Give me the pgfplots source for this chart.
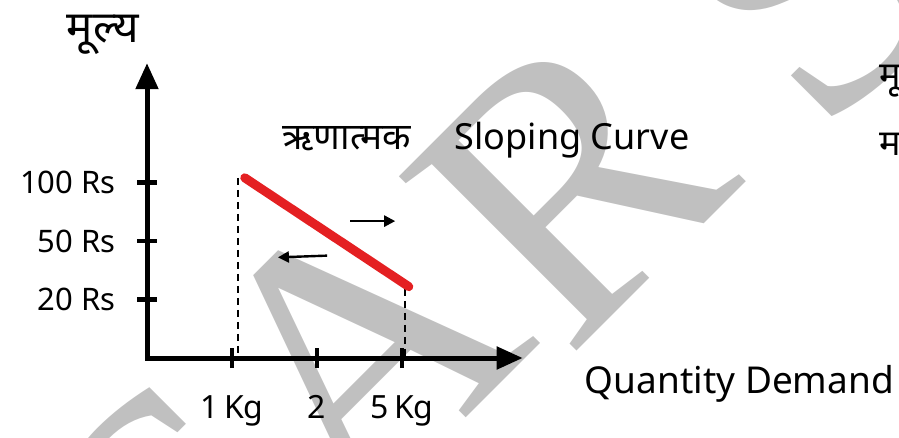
\documentclass[border=0pt]{standalone}
\usepackage{fontspec}
\setmainfont{Noto Sans}
\newfontfamily\hindi[Script=Devanagari]{Noto Sans}
\newfontfamily\wmfont{Liberation Serif}
\usepackage{pgfplots}
\pgfplotsset{compat=1.18}
\usetikzlibrary{arrows.meta}
\definecolor{curvered}{RGB}{228,32,34}
\definecolor{wmgray}{RGB}{192,192,192}

\begin{document}
\begin{tikzpicture}
\useasboundingbox (0,0) rectangle (899pt,437pt);
% watermark letters behind the chart
\tikzset{wm/.style={wmgray, rotate=45, inner sep=0, font=\wmfont\fontsize{380}{380}\selectfont}}
\node[wm] at (186pt,-84pt) {S};
\node[wm] at (357pt,87pt) {A};
\node[wm] at (569pt,254pt) {R};
\node[wm] at (808pt,458pt) {S};

\begin{axis}[
    at={(147pt,79pt)}, anchor=south west,
    x=85pt, y=58.5pt,
    xmin=0, xmax=4.42, ymin=0, ymax=5.04,
    axis lines=left,
    axis line style={line width=5pt, line cap=rect, -{Triangle[length=26pt,width=22pt]}},
    xtick={1,2,3}, xticklabels={1\,Kg, 2, 5\,Kg},
    ytick={1,2,3}, yticklabels={20 Rs, 50 Rs, 100 Rs},
    tick align=center, major tick length=20pt,
    tick style={line width=4.5pt, black},
    xticklabel style={font=\fontsize{32}{34}\selectfont, anchor=north, yshift=-24pt},
    yticklabel style={font=\fontsize{31}{34}\selectfont, anchor=east, xshift=-18pt},
    clip=false,
]
% dashed guides from the curve ends
\addplot[black, line width=2pt, dash pattern=on 7pt off 5pt] coordinates {(1.07,3.08) (1.07,0)};
\addplot[black, line width=2pt, dash pattern=on 7pt off 5pt] coordinates {(3.04,1.18) (3.04,0)};
% demand curve
\addplot[curvered, line width=9pt, line cap=round] coordinates {(1.15,3.08) (3.08,1.22)};

\draw[line width=2.4pt, -{Triangle[length=11pt,width=11pt]}] (axis cs:2.39,2.34) -- (axis cs:2.92,2.34);
\draw[line width=2.4pt, -{Triangle[length=11pt,width=11pt]}] (axis cs:2.12,1.75) -- (axis cs:1.54,1.72);

\node[anchor=center, inner sep=0, font=\hindi\fontsize{44}{48}\selectfont] at (axis cs:-0.52,5.52) {मूल्य};
\node[anchor=base west, inner sep=0, font=\hindi\fontsize{37}{40}\selectfont] at (axis cs:1.59,3.56) {ऋणात्मक};
\node[anchor=base west, inner sep=0, font=\fontsize{36}{40}\selectfont] at (axis cs:3.62,3.56) {Sloping Curve};
\node[anchor=base west, inner sep=0, font=\fontsize{37}{40}\selectfont] at (axis cs:5.15,-0.6) {Quantity Demand};
\node[anchor=base west, inner sep=0, font=\hindi\fontsize{36}{40}\selectfont] at (axis cs:8.62,4.62) {मूल्य};
\node[anchor=base west, inner sep=0, font=\hindi\fontsize{36}{40}\selectfont] at (axis cs:8.62,3.47) {मांग};
\end{axis}
\end{tikzpicture}
\end{document}
